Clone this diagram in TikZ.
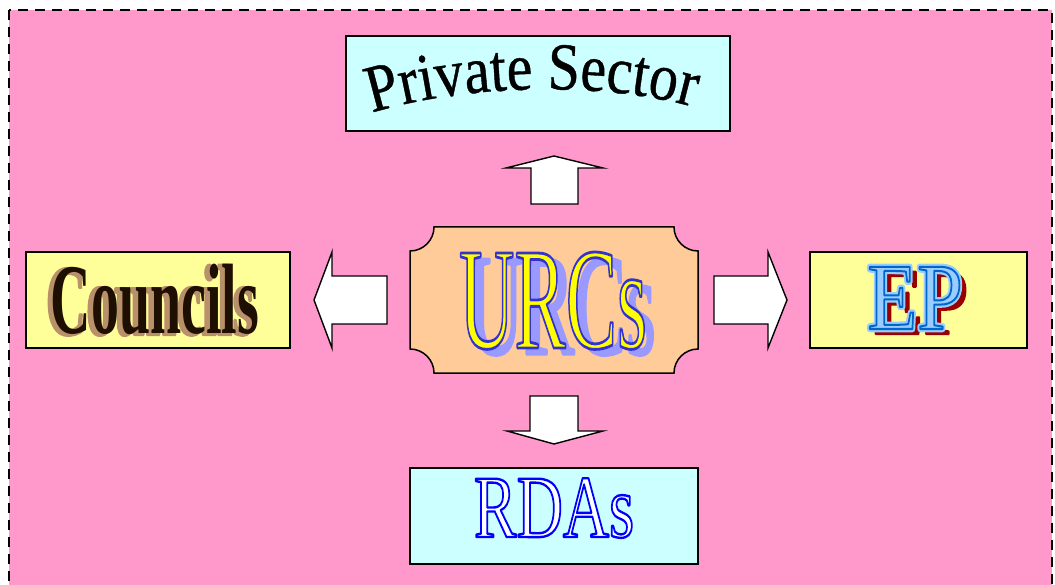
\documentclass[tikz,border=0pt]{standalone}
\usepackage{fontspec}
\setmainfont{Liberation Serif}
\newfontfamily\psfont[FakeStretch=0.86,FakeBold=0.6]{Liberation Serif}
\usetikzlibrary{decorations.text}
\definecolor{bgpink}{HTML}{FF99CC}
\definecolor{cyanbox}{HTML}{CCFFFF}
\definecolor{yellowbox}{HTML}{FFFF99}
\definecolor{peachbox}{HTML}{FFCC99}
\definecolor{urcshade}{HTML}{9999FF}
\definecolor{urcfill}{HTML}{FFFF00}
\definecolor{eplight}{HTML}{99CCFF}
\definecolor{epshade}{HTML}{990000}
\definecolor{councildark}{HTML}{1E0F02}
\definecolor{councilgold}{HTML}{B8906A}
% #1 stroke width, #2 stroke rgb, #3 text : fill (current colour) + stroke
\newcommand\outlinetext[3]{\special{pdf:literal direct #2 RG #1 w 1 j 2 Tr}#3\special{pdf:literal direct 0 Tr}}
\newcommand\councilsword{\scalebox{0.56}[1]{\fontsize{100}{100}\selectfont\bfseries Councils}}
\newcommand\urcword{\scalebox{0.53}[1]{\fontsize{145}{145}\selectfont URCs}}
\newcommand\epword{\scalebox{0.86}[1]{\fontsize{95}{95}\selectfont EP}}
\newcommand\rdaword{\scalebox{0.72}[1]{\fontsize{89}{89}\selectfont RDAs}}
\tikzset{
  box/.style={draw=black, line width=1.5pt, inner sep=0pt, outer sep=0pt},
  blockarrow/.style={draw=black, fill=white, line width=1.4pt, line join=miter},
  word/.style={anchor=base, inner sep=0pt, outer sep=0pt}
}
\begin{document}
\begin{tikzpicture}[x=1pt,y=-1pt]
\useasboundingbox (0,0) rectangle (1055,585);
\fill[white] (0,0) rectangle (1055,585);
\clip (0,0) rectangle (1055,585);
\draw[fill=bgpink, line width=2.2pt, dash pattern=on 10pt off 7pt] (9,10) rectangle (1052,600);

% boxes
\node[box, fill=cyanbox, minimum width=384pt, minimum height=95pt] (private) at (538,83.5) {};
\node[box, fill=yellowbox, minimum width=264pt, minimum height=96pt] (councilsbox) at (158,300) {};
\node[box, fill=yellowbox, minimum width=217pt, minimum height=96pt] (epbox) at (918.5,300) {};
\node[box, fill=cyanbox, minimum width=288pt, minimum height=96pt] (rdasbox) at (554,516) {};
\draw[box, fill=peachbox] (434,227) -- (674,227) .. controls (674,240.2) and (684.8,251) .. (698,251)
  -- (698,349) .. controls (684.8,349) and (674,359.8) .. (674,373)
  -- (434,373) .. controls (434,359.8) and (423.2,349) .. (410,349)
  -- (410,251) .. controls (423.2,251) and (434,240.2) .. (434,227) -- cycle;
\coordinate (urcbox) at (554,300);

% block arrows
\draw[blockarrow] (531,204) -- (531,168) -- (506,168) -- (554,156) -- (603,168) -- (578,168) -- (578,204) -- cycle;
\draw[blockarrow] (387,276) -- (332,276) -- (332,252) -- (314,300) -- (332,348) -- (332,324) -- (387,324) -- cycle;
\draw[blockarrow] (714,276) -- (768,276) -- (768,252) -- (787,300) -- (768,348) -- (768,324) -- (714,324) -- cycle;
\draw[blockarrow] (530,396) -- (578,396) -- (578,431) -- (603,431) -- (554,444) -- (507,431) -- (530,431) -- cycle;

% Private Sector (arched)
\begin{scope}[y=1pt]
\path[decorate, decoration={text along path, text align=center,
  text format delimiters={|}{|},
  text={|\psfont\fontsize{67}{69}\selectfont|Private Sector}}]
  (368,-114) .. controls (470,-82) and (610,-82) .. (697,-108);
\end{scope}

% Councils
\node[word, text=councilgold] (councilsB) at (150,334.5) {\outlinetext{3}{0.72 0.565 0.416}{\councilsword}};
\node[word, text=councildark] (councils) at (155,334) {\councilsword};

% URCs
\node[word, text=urcshade] (urcshadow) at (562,354) {\outlinetext{3}{0.6 0.6 1}{\urcword}};
\node[word, text=urcfill] (urcs) at (553,348) {\outlinetext{2.8}{0.2 0.2 0.8}{\urcword}};

% EP
\node[word, text=epshade] (epshadow) at (921,334) {\outlinetext{2.4}{0.6 0 0}{\epword}};
\node[word, text=eplight] (epouter) at (915,329) {\outlinetext{6.5}{0.6 0.8 1}{\epword}};
\node[word, text=eplight] (ep) at (915,329) {\outlinetext{2}{0 0.4 0.8}{\epword}};

% RDAs
\node[word, text=white] (rdas) at (554,537) {\outlinetext{2.4}{0 0 1}{\rdaword}};
\end{tikzpicture}
\end{document}
